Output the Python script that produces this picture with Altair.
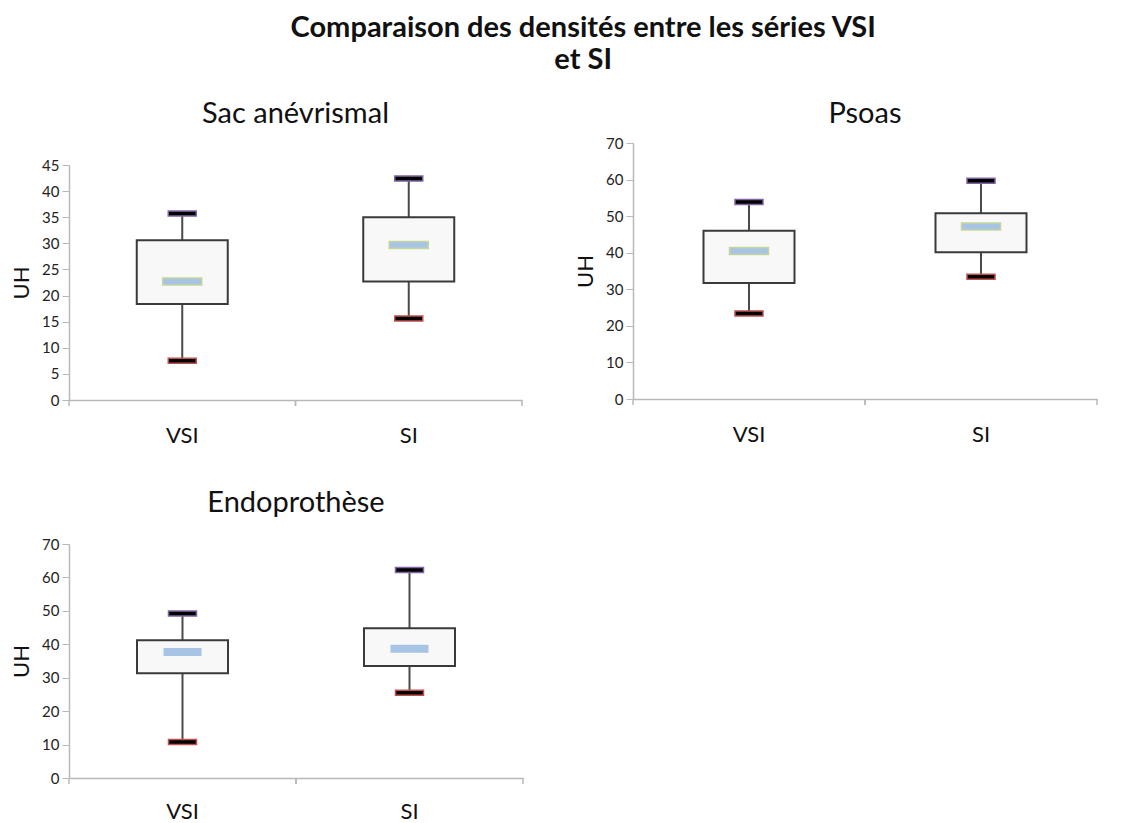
import altair as alt
import pandas as pd

CATS = ["VSI", "SI"]

# Sac anévrismal
SAC_MIN = [7.5, 15.6]
SAC_Q1 = [18.4, 22.7]
SAC_MED = [22.7, 29.7]
SAC_Q3 = [30.6, 35.0]
SAC_MAX = [35.7, 42.4]

# Psoas
PSO_MIN = [23.4, 33.4]
PSO_Q1 = [31.7, 40.1]
PSO_MED = [40.5, 47.2]
PSO_Q3 = [46.0, 50.8]
PSO_MAX = [53.9, 59.7]

# Endoprothèse
END_MIN = [10.8, 25.5]
END_Q1 = [31.3, 33.5]
END_MED = [37.7, 38.7]
END_Q3 = [41.2, 44.8]
END_MAX = [49.2, 62.2]

FONT = "Lato"
AXIS_GRAY = "#b8b8b8"
PANEL_TITLE_SIZE = 29


def panel_title(text, offset):
    return alt.TitleParams(text, fontSize=PANEL_TITLE_SIZE, font=FONT, fontWeight="normal",
                           color="#111", offset=offset, anchor="middle")


def spacer(text, w, h):
    # empty header cell carrying a panel title
    return alt.Chart(pd.DataFrame({"s": [0]})).mark_point(opacity=0, size=1).encode(
        x=alt.value(0), y=alt.value(0)
    ).properties(width=w, height=h, title=panel_title(text, 6))


def panel(mins, q1s, meds, q3s, maxs, ymax, step, w, h, med_stroke, label_pad):
    df = pd.DataFrame({"serie": CATS, "mn": mins, "q1": q1s, "med": meds, "q3": q3s, "mx": maxs})
    xenc = alt.X(
        "serie:N", sort=CATS,
        scale=alt.Scale(paddingInner=0, paddingOuter=0),
        axis=alt.Axis(title=None, ticks=False, labelAngle=0, labelFontSize=22, labelFont=FONT,
                      labelColor="#111", labelPadding=label_pad, domainColor=AXIS_GRAY,
                      domainWidth=1.5),
    )
    yscale = alt.Scale(domain=[0, ymax], nice=False)
    yaxis = alt.Axis(title="UH", values=list(range(0, ymax + 1, step)), grid=False,
                     titleFontSize=22, titleFont=FONT, titleFontWeight="normal", titleColor="#111",
                     titlePadding=8, labelFontSize=15, labelFont=FONT, labelColor="#222",
                     labelPadding=3, tickSize=7, tickColor=AXIS_GRAY, domainColor=AXIS_GRAY,
                     domainWidth=1.5, labelOverlap=False)

    def Y(field):
        return alt.Y(f"{field}:Q", scale=yscale, axis=yaxis)

    base = alt.Chart(df).encode(x=xenc)
    whisk = base.mark_rule(color="#4a4a4a", strokeWidth=2).encode(y=Y("mn"), y2="mx:Q")
    box = base.mark_bar(size=91, fill="#f8f8f8", stroke="#3a3a3a", strokeWidth=2).encode(
        y=Y("q1"), y2="q3:Q")
    capmax = base.mark_tick(color="black", thickness=5, size=28, stroke="#8064a2",
                            strokeWidth=1.5, opacity=1).encode(y=Y("mx"))
    capmin = base.mark_tick(color="black", thickness=5, size=28, stroke="#c0504d",
                            strokeWidth=1.5, opacity=1).encode(y=Y("mn"))
    if med_stroke:
        med = base.mark_tick(color="#a7c4e5", thickness=7, size=39, stroke="#c3d69b",
                             strokeWidth=1.5, opacity=1).encode(y=Y("med"))
    else:
        med = base.mark_tick(color="#a7c4e5", thickness=8, size=38, opacity=1).encode(y=Y("med"))
    xt0 = base.mark_rule(color=AXIS_GRAY, strokeWidth=1.5).encode(
        x=alt.X("serie:N", sort=CATS, bandPosition=0), y=alt.value(h), y2=alt.value(h + 6))
    xt1 = base.mark_rule(color=AXIS_GRAY, strokeWidth=1.5).encode(
        x=alt.X("serie:N", sort=CATS, bandPosition=1), y=alt.value(h), y2=alt.value(h + 6))
    return alt.layer(whisk, box, capmax, capmin, med, xt0, xt1).properties(width=w, height=h)


p1 = panel(SAC_MIN, SAC_Q1, SAC_MED, SAC_Q3, SAC_MAX, 45, 5, 453, 235, True, 25)
p2 = panel(PSO_MIN, PSO_Q1, PSO_MED, PSO_Q3, PSO_MAX, 70, 10, 464, 256, True, 25)
p3 = panel(END_MIN, END_Q1, END_MED, END_Q3, END_MAX, 70, 10, 454, 234, False, 23).properties(
    title=panel_title("Endoprothèse", 19))

left_col = alt.vconcat(spacer("Sac anévrismal", 453, 23), p1, spacing=0)
right_col = alt.vconcat(spacer("Psoas", 464, 1), p2, spacing=0)
top_row = alt.hconcat(left_col, right_col, spacing=51)

chart = alt.vconcat(
    top_row,
    p3,
    spacing=43,
).properties(
    title=alt.TitleParams(["Comparaison des densités entre les séries VSI", "et SI"],
                          fontSize=29, font=FONT, fontWeight="bold", color="#111",
                          anchor="middle", offset=23, lineHeight=32, dx=29, dy=-2),
    padding={"left": 2, "top": 5, "right": 0, "bottom": 0},
).configure_view(stroke=None)

chart.save("out.html", embed_options={"renderer": "svg", "actions": False})
